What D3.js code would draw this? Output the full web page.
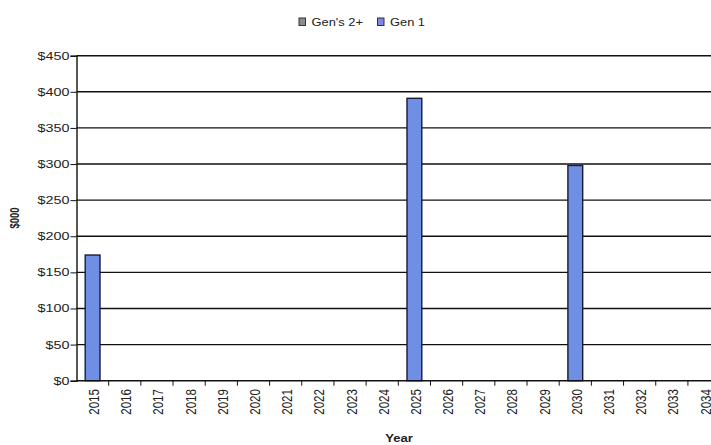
<!DOCTYPE html>
<html>
<head>
<meta charset="utf-8">
<script src="https://cdn.jsdelivr.net/npm/d3@7"></script>
<style>
  html, body { margin: 0; padding: 0; background: #fff; }
  svg { display: block; font-family: Arial, "Liberation Sans", sans-serif; }
</style>
</head>
<body>
<svg id="chart" width="711" height="445"></svg>
<script>
// Years on the category axis
const years = ["2015","2016","2017","2018","2019","2020","2021","2022","2023","2024",
               "2025","2026","2027","2028","2029","2030","2031","2032","2033","2034"];
// Replacement cost per year, $000
const gen1 = [174, 0, 0, 0, 0, 0, 0, 0, 0, 0, 391, 0, 0, 0, 0, 298, 0, 0, 0, 0];
const gen2plus = [0, 0, 0, 0, 0, 0, 0, 0, 0, 0, 0, 0, 0, 0, 0, 0, 0, 0, 0, 0];
const yTicks = [0, 50, 100, 150, 200, 250, 300, 350, 400, 450];
const seriesNames = ["Gen's 2+", "Gen 1"];

const svg = d3.select("#chart");
const plotLeft = 76.5, plotRight = 720.1, plotTop = 55.7, plotBottom = 380.7;
const stretch = 1.25; // text is drawn a little wide

const x = d3.scaleBand().domain(years).range([plotLeft, plotRight]).padding(0);
const y = d3.scaleLinear().domain([0, 450]).range([plotBottom, plotTop]);
const barW = x.step() * 0.46;

// horizontal gridlines
svg.append("g").selectAll("line").data(yTicks.filter(d => d > 0)).join("line")
  .attr("x1", plotLeft).attr("x2", plotRight)
  .attr("y1", d => y(d)).attr("y2", d => y(d))
  .attr("stroke", "#111").attr("stroke-width", 1.4);

// stacked bars: Gen 1 at the bottom, Gen's 2+ on top
const rows = years.map((yr, i) => ({ yr, g1: gen1[i], g2: gen2plus[i] }));
svg.append("g").selectAll("rect").data(rows.filter(d => d.g1 > 0)).join("rect")
  .attr("x", d => x(d.yr) + (x.step() - barW) / 2)
  .attr("width", barW)
  .attr("y", d => y(d.g1))
  .attr("height", d => y(0) - y(d.g1))
  .attr("fill", "#6f8fe4")
  .attr("stroke", "#1a1a38").attr("stroke-width", 1.4);
svg.append("g").selectAll("rect").data(rows.filter(d => d.g2 > 0)).join("rect")
  .attr("x", d => x(d.yr) + (x.step() - barW) / 2)
  .attr("width", barW)
  .attr("y", d => y(d.g1 + d.g2))
  .attr("height", d => y(d.g1) - y(d.g1 + d.g2))
  .attr("fill", "#8c8c8c")
  .attr("stroke", "#1a1a38").attr("stroke-width", 1.4);

// y axis: line and ticks from d3, labels drawn wide
const yAxis = svg.append("g").attr("transform", `translate(${plotLeft},0)`)
  .call(d3.axisLeft(y).tickValues(yTicks).tickFormat("").tickSize(6));
yAxis.select(".domain").attr("stroke", "#111").attr("stroke-width", 1.4);
yAxis.selectAll(".tick line").attr("stroke", "#111");
svg.append("g").selectAll("text").data(yTicks).join("text")
  .attr("transform", d => `translate(${plotLeft - 7},${y(d) + 4}) scale(${stretch},1)`)
  .attr("text-anchor", "end")
  .attr("font-size", 11.5).attr("fill", "#222")
  .text(d => "$" + d);

// x axis with ticks on category boundaries
const xg = svg.append("g").attr("transform", `translate(0,${plotBottom})`);
xg.append("line").attr("x1", plotLeft).attr("x2", plotRight).attr("stroke", "#111").attr("stroke-width", 1.4);
xg.selectAll("line.tk").data(years).join("line").attr("class", "tk")
  .attr("x1", d => x(d) + x.step()).attr("x2", d => x(d) + x.step())
  .attr("y1", 0).attr("y2", 5).attr("stroke", "#111");
xg.selectAll("text").data(years).join("text")
  .attr("transform", d => `translate(${x(d) + x.step() / 2 + 6.5},8.5) scale(${stretch},1) rotate(-90)`)
  .attr("text-anchor", "end")
  .attr("font-size", 11.5).attr("fill", "#222")
  .text(d => d);

// axis titles
svg.append("text").attr("transform", `translate(19,218) scale(${stretch},1) rotate(-90)`)
  .attr("text-anchor", "middle").attr("font-size", 9.5).attr("font-weight", "bold")
  .attr("fill", "#222").text("$000");
svg.append("text").attr("transform", `translate(399,442) scale(${stretch},1)`)
  .attr("text-anchor", "middle").attr("font-size", 10.5).attr("font-weight", "bold")
  .attr("fill", "#222").text("Year");

// legend
const legend = svg.append("g");
const legendItems = [
  { name: seriesNames[0], fill: "#8c8c8c", x: 299 },
  { name: seriesNames[1], fill: "#7a88e8", x: 377.5 }
];
legendItems.forEach(it => {
  legend.append("rect").attr("x", it.x).attr("y", 18).attr("width", 6.5).attr("height", 7.5)
    .attr("fill", it.fill).attr("stroke", "#333").attr("stroke-width", 1);
  legend.append("text").attr("transform", `translate(${it.x + 12.5},26) scale(1.12,1)`)
    .attr("font-size", 11.5).attr("fill", "#222").text(it.name);
});
</script>
</body>
</html>
